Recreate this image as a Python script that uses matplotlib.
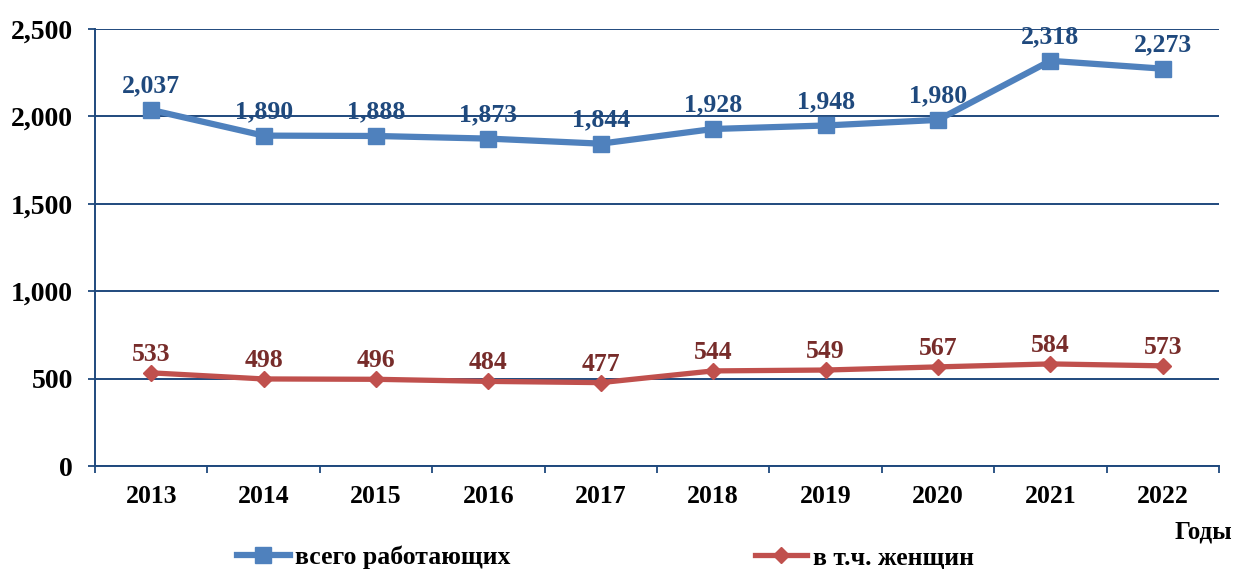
import numpy as np
import matplotlib as mpl
import matplotlib.pyplot as plt
from matplotlib.ticker import FuncFormatter, FixedLocator

mpl.rcParams.update({'font.family': 'Liberation Serif', 'font.weight': 'bold'})

years = ['2013', '2014', '2015', '2016', '2017', '2018', '2019', '2020', '2021', '2022']
total = [2037, 1890, 1888, 1873, 1844, 1928, 1948, 1980, 2318, 2273]
women = [533, 498, 496, 484, 477, 544, 549, 567, 584, 573]
y_ticks = [0, 500, 1000, 1500, 2000, 2500]

axis_col = '#1F497D'
blue = '#4F81BD'
red = '#C0504D'

fig = plt.figure(figsize=(12.36, 5.69), dpi=100)
ax = fig.add_axes([95 / 1236, 1 - 466 / 569, 1124 / 1236, 437 / 569])

x = np.arange(len(years))
l1, = ax.plot(x, total, color=blue, lw=4.5, marker='s', ms=11, label='всего работающих')
l2, = ax.plot(x, women, color=red, lw=3.8, marker='D', ms=8, label='в т.ч. женщин')

for xi, v in zip(x, total):
    ax.annotate('{:,}'.format(v), (xi, v), xytext=(0, 9), textcoords='offset points',
                ha='center', va='bottom', fontsize=18.5, fontweight='bold', color=axis_col)
for xi, v in zip(x, women):
    ax.annotate('{:,}'.format(v), (xi, v), xytext=(0, 5), textcoords='offset points',
                ha='center', va='bottom', fontsize=18.5, fontweight='bold', color='#772C2A')

ax.set_xlim(-0.5, len(years) - 0.5)
ax.set_ylim(0, 2500)
ax.set_yticks(y_ticks)
ax.yaxis.set_major_formatter(FuncFormatter(lambda v, p: '{:,}'.format(int(v))))
ax.set_xticks(x)
ax.set_xticklabels(years)
ax.xaxis.set_minor_locator(FixedLocator(np.arange(-0.5, len(years), 1)))
ax.tick_params(axis='x', which='major', length=0, pad=14, labelsize=18.5)
ax.tick_params(axis='x', which='minor', length=5, width=1.3, color=axis_col, direction='out')
ax.tick_params(axis='y', length=5, width=1.3, color=axis_col, labelsize=20, pad=11)
for lab in ax.get_xticklabels() + ax.get_yticklabels():
    lab.set_fontweight('bold')

ax.grid(axis='y', color=axis_col, lw=1.4)
ax.set_axisbelow(True)
for s in ['top', 'right']:
    ax.spines[s].set_visible(False)
for s in ['left', 'bottom']:
    ax.spines[s].set_color(axis_col)
    ax.spines[s].set_linewidth(1.4)

fig.text(1232 / 1236, 1 - 532 / 569, 'Годы', ha='right', va='center', fontsize=18, fontweight='bold')

fig.legend(handles=[l1, l2], loc='center left', bbox_to_anchor=(237 / 1236, 0.02), ncol=2,
           frameon=False, handlelength=2.06, handletextpad=0.2, columnspacing=9.5, borderpad=0,
           borderaxespad=0, prop={'weight': 'bold', 'size': 18.5})

fig.savefig('out.png', dpi=100)
